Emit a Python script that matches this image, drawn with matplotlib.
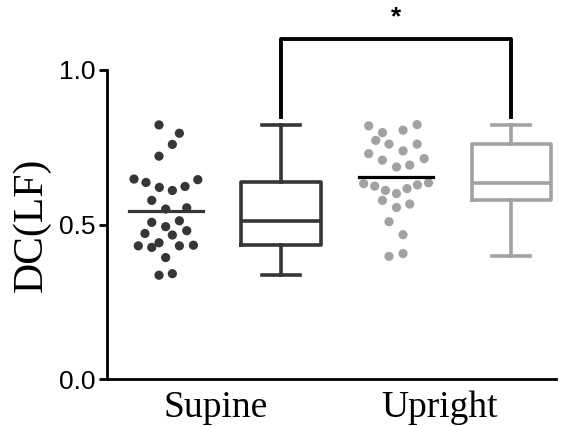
import numpy as np
import matplotlib
matplotlib.use("Agg")
import matplotlib.pyplot as plt

# values
supine = [0.822, 0.795, 0.759, 0.721, 0.647, 0.636, 0.620, 0.610, 0.623, 0.645,
          0.578, 0.550, 0.554, 0.507, 0.512, 0.493, 0.471, 0.466, 0.480,
          0.431, 0.426, 0.441, 0.431, 0.433, 0.393, 0.336, 0.341]
supine_jitter = [-0.061, 0.116, 0.055, -0.061, -0.278, -0.174, -0.058, 0.055, 0.165, 0.276,
                 -0.124, -0.003, 0.180, -0.124, 0.116, -0.003, -0.183, 0.055, 0.180,
                 -0.241, -0.124, -0.061, 0.116, 0.238, -0.003, -0.061, 0.055]
upright = [0.819, 0.797, 0.805, 0.823, 0.772, 0.760, 0.760, 0.738, 0.729, 0.708,
           0.686, 0.692, 0.713, 0.632, 0.624, 0.610, 0.600, 0.616, 0.628, 0.635,
           0.578, 0.555, 0.566, 0.509, 0.467, 0.397, 0.406]
upright_jitter = [-0.239, -0.120, 0.059, 0.181, -0.178, -0.063, 0.181, 0.059, -0.239, -0.120,
                  0.002, 0.117, 0.242, -0.283, -0.187, -0.094, 0.002, 0.094, 0.184, 0.280,
                  -0.120, 0.002, 0.117, -0.063, 0.059, -0.063, 0.059]
groups = ["Supine", "Upright"]
dark = "#363636"
light = "#a2a2a6"

fig = plt.figure(figsize=(5.69, 4.26), dpi=100)
ax = fig.add_axes([0.188, 0.110, 0.789, 0.726])


def box_stats(vals):
    q1, med, q3 = np.percentile(vals, [25, 50, 75], method="weibull")
    return dict(med=med, q1=q1, q3=q3, whislo=min(vals), whishi=max(vals))


for i, (vals, jit, col, mcol) in enumerate([(supine, supine_jitter, dark, dark),
                                           (upright, upright_jitter, light, "black")]):
    xs = 1 + 2 * i
    ax.scatter(xs + np.array(jit), vals, s=44, color=col, edgecolors="none", zorder=3)
    m = np.mean(vals)
    ax.plot([xs - 0.32, xs + 0.32], [m, m], color=mcol, lw=2.3, zorder=4)
    ax.bxp([box_stats(vals)], positions=[xs + 1], widths=0.69, showfliers=False,
           boxprops=dict(color=col, lw=2.6, solid_joinstyle="round"),
           medianprops=dict(color=col, lw=2.6),
           whiskerprops=dict(color=col, lw=2.6),
           capprops=dict(color=col, lw=2.6), capwidths=0.33)

# significance bracket
ax.plot([2, 2, 4, 4], [0.848, 1.10, 1.10, 0.848], color="black", lw=2.8,
        clip_on=False, solid_joinstyle="round")
ax.text(3, 1.17, "*", ha="center", va="center", fontsize=19, fontweight="bold",
        family="Liberation Sans", clip_on=False)

ax.set_xlim(0.487, 4.387)
ax.set_ylim(0, 1.0)
ax.set_yticks([0.0, 0.5, 1.0])
ax.set_yticklabels(["0.0", "0.5", "1.0"], family="Liberation Sans", fontsize=19)
ax.set_xticks([1.43, 3.38])
ax.set_xticklabels(groups, family="Liberation Serif", fontsize=27)
ax.tick_params(axis="x", length=0, pad=8)
ax.tick_params(axis="y", length=6, width=2, pad=2)
ax.set_ylabel("DC(LF)", family="Liberation Serif", fontsize=30, labelpad=6)
for s in ["top", "right"]:
    ax.spines[s].set_visible(False)
for s in ["left", "bottom"]:
    ax.spines[s].set_linewidth(2)

fig.savefig("out.png", dpi=100)
